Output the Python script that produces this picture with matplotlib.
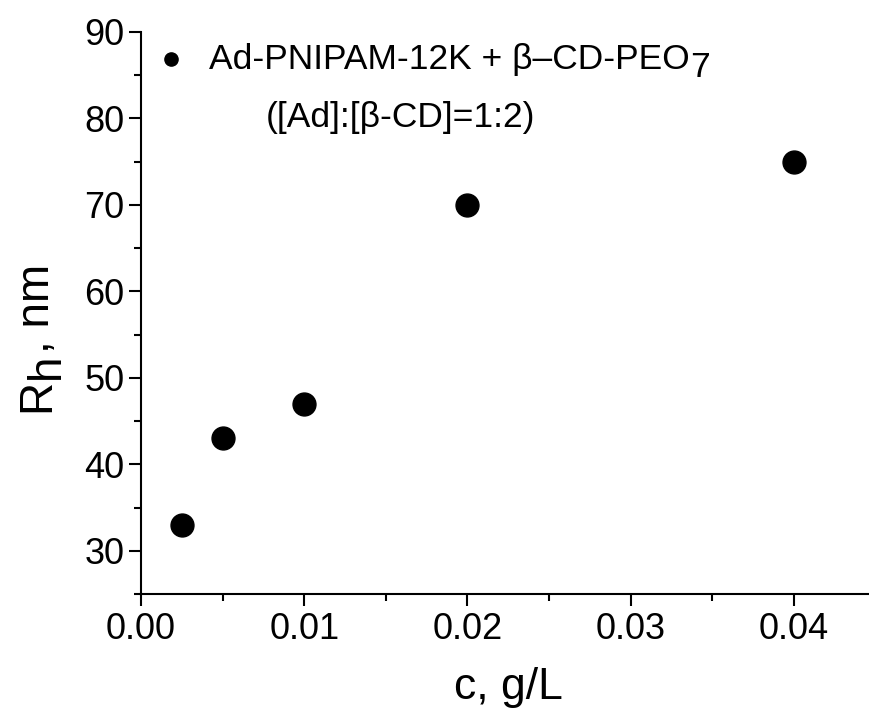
import matplotlib
matplotlib.use("Agg")
import matplotlib.pyplot as plt
from matplotlib.ticker import MultipleLocator
from matplotlib.transforms import IdentityTransform
from matplotlib.lines import Line2D

# concentration (g/L) and hydrodynamic radius (nm)
conc = [0.0025, 0.005, 0.01, 0.02, 0.04]
rh = [33, 43, 47, 70, 75]
series_label = [('Ad-PNIPAM-12K + \u03b2\u2013CD-PEO', 0), ('7', 8)]
ratio_label = '([Ad]:[\u03b2-CD]=1:2)'
xlabel = [('c, g/L', 0)]
ylabel = [('R', 0), ('h', 10), (', nm', 0)]

plt.rcParams['font.family'] = ['Liberation Sans', 'DejaVu Sans']

W, H = 869, 717
fig = plt.figure(figsize=(W / 100, H / 100), dpi=100)
ax = fig.add_axes([141 / W, (H - 594) / H, 734.4 / W, 562 / H])

ax.plot(conc, rh, 'o', color='black', markersize=16.5, linestyle='none')

ax.set_xlim(0, 0.045)
ax.set_ylim(25, 90)
ax.xaxis.set_major_locator(MultipleLocator(0.01))
ax.xaxis.set_minor_locator(MultipleLocator(0.005))
ax.yaxis.set_major_locator(MultipleLocator(10))
ax.yaxis.set_minor_locator(MultipleLocator(5))
ax.xaxis.set_major_formatter(plt.FormatStrFormatter('%.2f'))

for s in ['top', 'right']:
    ax.spines[s].set_visible(False)
for s in ['left', 'bottom']:
    ax.spines[s].set_linewidth(1.5)

ax.tick_params(which='major', length=8.5, width=1.5, labelsize=26)
ax.tick_params(axis='x', which='major', pad=4.5)
ax.tick_params(axis='y', which='major', pad=3.5)
ax.tick_params(which='minor', length=5, width=1.5)

renderer = fig.canvas.get_renderer()


def rich_text(x, y, pieces, size, rotation=0):
    # pieces drawn one after another, each with its own baseline drop (px)
    pos = 0.0
    for s, drop in pieces:
        if rotation == 90:
            px, py = x + drop, y + pos
        else:
            px, py = x + pos, H - y - drop
        t = fig.text(px, py, s, transform=IdentityTransform(), fontsize=size,
                     ha='left', va='baseline', rotation=rotation,
                     rotation_mode='anchor')
        bb = t.get_window_extent(renderer)
        pos += bb.height if rotation == 90 else bb.width


# y label (pixel coords: baseline x, start y from bottom)
rich_text(49, H - 412, ylabel, 33, rotation=90)
# x label
rich_text(454, 699, xlabel, 32)

# legend
ax.add_line(Line2D([170.5 / W], [1 - 58.5 / H], transform=fig.transFigure,
                   marker='o', markersize=9.5, color='black',
                   linestyle='none', clip_on=False))
rich_text(209, 69, series_label, 25.5)
rich_text(266, 127, [(ratio_label, 0)], 25.5)

fig.savefig('out.png', dpi=100)
